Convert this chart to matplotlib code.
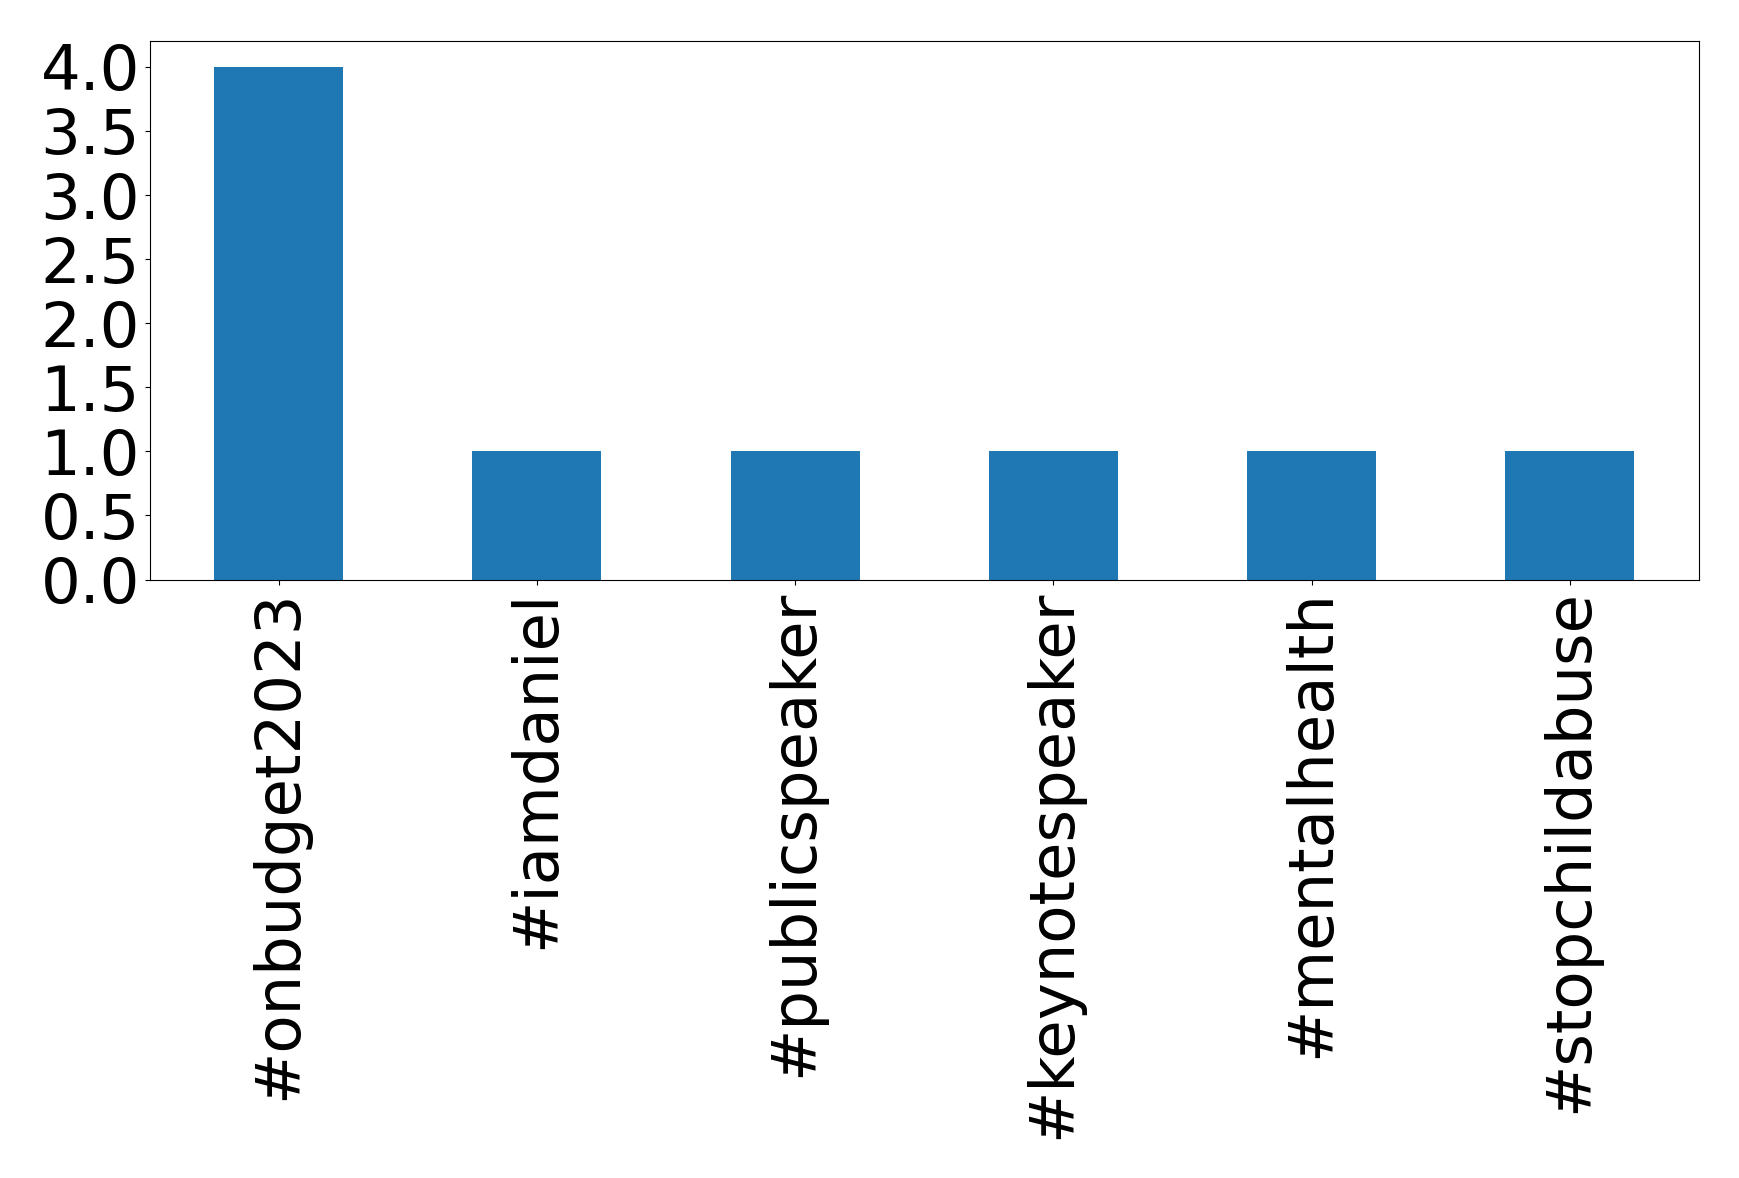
import matplotlib
matplotlib.use("Agg")
import matplotlib.pyplot as plt
import pandas as pd

hashtags = ["#onbudget2023", "#iamdaniel", "#publicspeaker",
            "#keynotespeaker", "#mentalhealth", "#stopchildabuse"]
counts = [4, 1, 1, 1, 1, 1]
yticks = [0.0, 0.5, 1.0, 1.5, 2.0, 2.5, 3.0, 3.5, 4.0]

counts_series = pd.Series(counts, index=hashtags)

fig, ax = plt.subplots(figsize=(17.39, 11.78), dpi=100)
counts_series.plot(kind="bar", ax=ax, color="#1f77b4")
ax.set_yticks(yticks)
ax.set_yticklabels([f"{t:.1f}" for t in yticks])
ax.tick_params(axis="both", labelsize=45)
plt.setp(ax.get_xticklabels(), rotation=90)
fig.subplots_adjust(left=0.086, right=0.977, top=0.965, bottom=0.508)
fig.savefig("out.png", dpi=100)
